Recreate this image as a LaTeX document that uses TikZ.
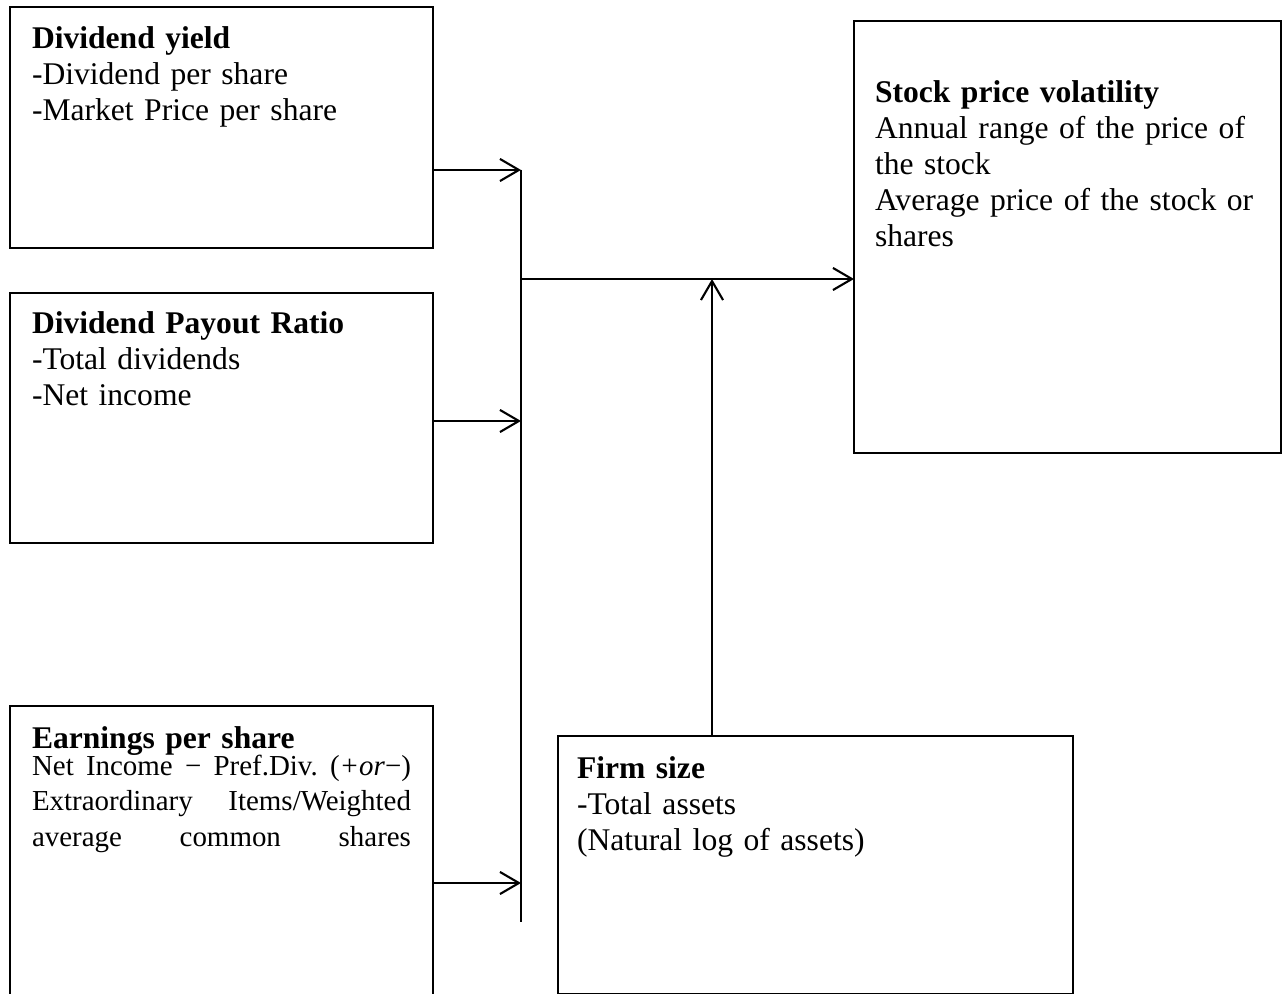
\documentclass[tikz,border=0pt]{standalone}
\usepackage{fontspec}
\setmainfont{Liberation Serif}
\usetikzlibrary{arrows.meta}
\setlength{\parindent}{0pt}
\newlength{\epsw}
\setlength{\epsw}{144.02pt}
\begin{document}
\begin{tikzpicture}[x=0.38pt,y=-0.38pt,
  box/.style={draw, line width=0.8pt, inner sep=0pt, outer sep=0pt, anchor=north west},
  txt/.style={anchor=north west, inner sep=0pt, outer sep=0pt, align=left,
              font=\fontsize{12}{13.68}\selectfont},
  conn/.style={line width=0.8pt},
  arr/.style={conn, -{Straight Barb[length=7.2pt,width=8.4pt,line width=0.8pt]}}]
\useasboundingbox (0,0) rectangle (1287,994);
% boxes
\node[box, minimum width=423*0.38pt, minimum height=241*0.38pt] (dy) at (10,7) {};
\node[box, minimum width=423*0.38pt, minimum height=250*0.38pt] (dp) at (10,293) {};
\node[box, minimum width=423*0.38pt, minimum height=304*0.38pt] (eps) at (10,706) {};
\node[box, minimum width=427*0.38pt, minimum height=432*0.38pt] (spv) at (854,21) {};
\node[box, minimum width=515*0.38pt, minimum height=258*0.38pt] (fs) at (558,736) {};
% texts
\node[txt, text width=400*0.38pt] (dyt) at (32,23.5)
  {\strut\textbf{Dividend yield}\\-Dividend per share\\-Market Price per share};
\node[txt, text width=400*0.38pt] (dpt) at (32,308.5)
  {\strut\textbf{Dividend Payout Ratio}\\-Total dividends\\-Net income};
\node[txt, text width=400*0.38pt] (epst) at (32,723.5)
  {\strut\textbf{Earnings per share}\\[-3.4pt]
   \fontsize{11}{13.68}\selectfont
   \leavevmode\hbox to\epsw{Net\hspace{0.25em plus 1fil}Income\hspace{0.25em plus 1fil}−\hspace{0.25em plus 1fil}Pref.Div.\hspace{0.25em plus 1fil}(\textit{+or}−)}\\[-0.38pt]
   \leavevmode\hbox to\epsw{Extraordinary\hfill Items/Weighted}\\[-0.2pt]
   \leavevmode\hbox to\epsw{average\hfill common\hfill shares}};
\node[txt, text width=400*0.38pt] (spvt) at (875,77.5)
  {\strut\textbf{Stock price volatility}\\Annual range of the price of\\the stock\\Average price of the stock or\\shares};
\node[txt, text width=480*0.38pt] (fst) at (577,753.5)
  {\strut\textbf{Firm size}\\-Total assets\\(Natural log of assets)};
% junction points
\coordinate (j1) at (521,170);
\coordinate (j2) at (521,421);
\coordinate (j3) at (521,883);
\coordinate (jb) at (521,922);
\coordinate (jm) at (521,279);
\coordinate (jf) at (712,279);
% connectors
\draw[arr] (dy.east |- j1) -- (j1);
\draw[arr] (dp.east |- j2) -- (j2);
\draw[arr] (eps.east |- j3) -- (j3);
\draw[conn] (j1) -- (jb);
\draw[arr] (jm) -- (spv.west |- jm);
\draw[arr] (fs.north -| jf) -- (jf);
\end{tikzpicture}
\end{document}
